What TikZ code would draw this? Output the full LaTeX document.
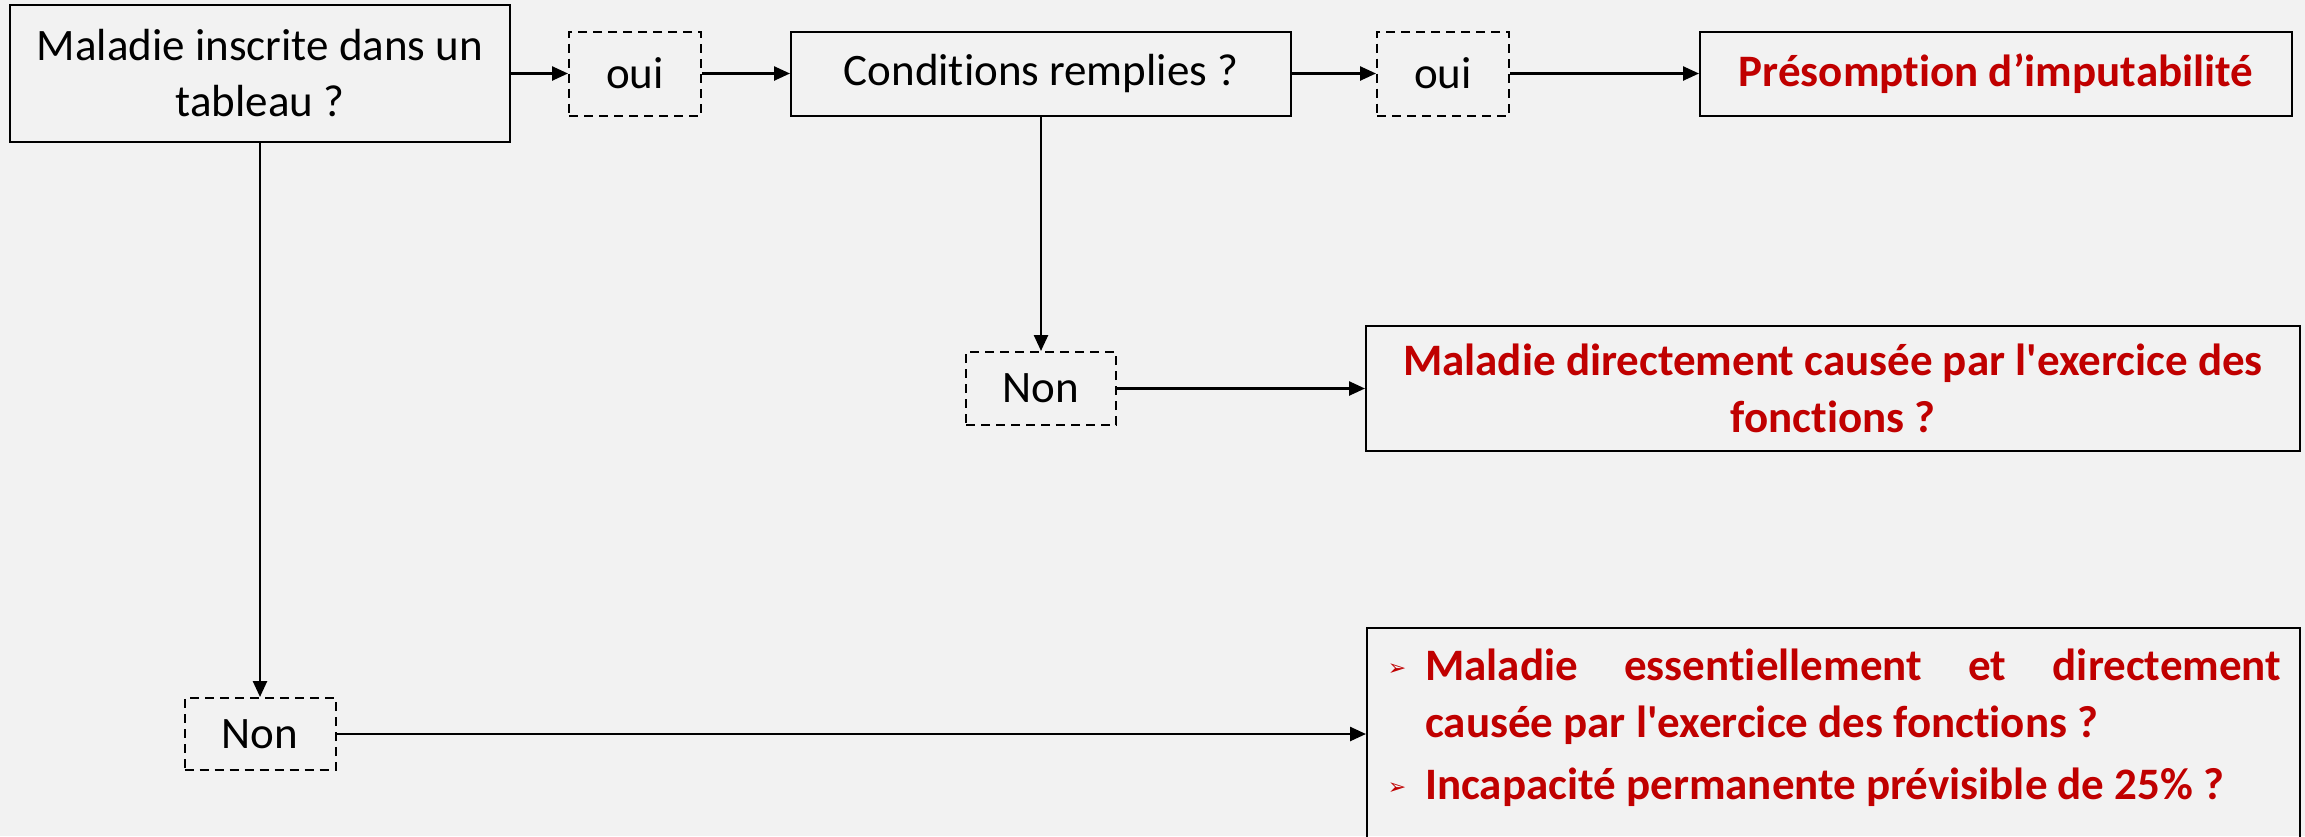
\documentclass[tikz,border=0pt]{standalone}
\usepackage{fontspec}
\newfontfamily\calib{Carlito}[Ligatures=NoCommon]
\newfontfamily\symfont{DejaVu Sans}
\usetikzlibrary{arrows.meta}
\definecolor{bg}{HTML}{F2F2F2}
\definecolor{darkred}{HTML}{C00000}
\tikzset{
  solidbox/.style={draw=black, line width=2pt, inner sep=0pt, align=center, font=\fontsize{45}{56}\selectfont\calib},
  dashbox/.style={draw=black, line width=2pt, dash pattern=on 9pt off 6pt, inner sep=0pt, align=center, font=\fontsize{45}{56}\selectfont\calib},
  redtext/.style={text=darkred, font=\fontsize{45}{57}\selectfont\calib\bfseries},
  conn/.style={draw=black, line width=2.5pt, -{Triangle[length=16pt, width=14pt]}},
  bul/.style={text=darkred, inner sep=0pt, font=\fontsize{22}{22}\selectfont\symfont},
}
\begin{document}
\begin{tikzpicture}[x=1pt, y=-1pt]
\fill[bg] (0,0) rectangle (2305,836);
\useasboundingbox (0,0) rectangle (2305,836);
\clip (0,0) rectangle (2305,836);

\node[solidbox, minimum width=500pt, minimum height=137pt] (box1) at (260,73.5) {Maladie inscrite dans un\\tableau ?};
\node[dashbox, minimum width=132pt, minimum height=84pt] (oui1) at (635,73.5) {oui};
\node[solidbox, minimum width=500pt, minimum height=84pt] (cond) at (1041,73.5) {Conditions remplies ?};
\node[dashbox, minimum width=132pt, minimum height=84pt] (oui2) at (1443,73.5) {oui};
\node[solidbox, redtext, minimum width=592pt, minimum height=84pt] (pres) at (1996,73.5) {Présomption d’imputabilité};
\node[dashbox, minimum width=150pt, minimum height=73pt] (non1) at (1041,388.5) {Non};
\node[solidbox, redtext, minimum width=934pt, minimum height=125pt] (mdir) at (1833,388.5) {Maladie directement causée par l'exercice des\\fonctions ?};
\node[dashbox, minimum width=151pt, minimum height=72pt] (non2) at (260,734) {Non};
\node[draw=black, line width=2pt, inner sep=0pt, minimum width=933pt, minimum height=300pt] (bot) at (1833.5,778) {};

\node[bul] (b1) at (1397,670) {➢};
\node[bul] (b2) at (1397,789) {➢};
\node[redtext, anchor=west, inner sep=0pt, align=left] (t1) at (1425,697)
  {\hbox to 856pt{Maladie\hfill essentiellement\hfill et\hfill directement}\\causée par l'exercice des fonctions ?};
\node[redtext, anchor=west, inner sep=0pt] (t2) at (1425,787) {Incapacité permanente prévisible de 25\% ?};

\draw[conn] (box1.east) -- (oui1.west);
\draw[conn] (oui1.east) -- (cond.west);
\draw[conn] (cond.east) -- (oui2.west);
\draw[conn] (oui2.east) -- (pres.west);
\draw[conn] (cond.south) -- (non1.north);
\draw[conn] (non1.east) -- (mdir.west);
\draw[conn] (box1.south) -- (non2.north);
\draw[conn] (non2.east) -- (non2.east -| bot.west);
\end{tikzpicture}
\end{document}
